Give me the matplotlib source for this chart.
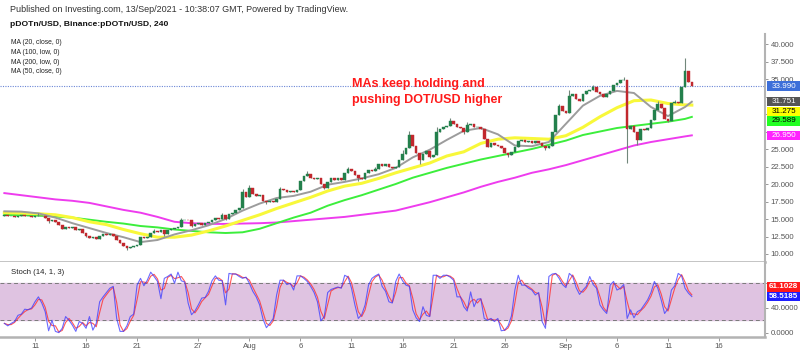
import numpy as np
import pandas as pd
import matplotlib
matplotlib.use("Agg")
import matplotlib.pyplot as plt
from matplotlib import transforms
from matplotlib.patches import Rectangle

plt.rcParams['font.family'] = ['Liberation Sans', 'DejaVu Sans']

# 8h candles, the first one opens 2021-07-08 00:00
start = pd.Timestamp('2021-07-08')
step = pd.Timedelta('8h')
first_open = 15.5
closes = [
    15.6, 15.4, 15.5, 15.3, 15.5, 15.6, 15.4, 15.5, 15.3, 15.4,
    15.4, 15.5, 15.2, 14.7, 14.9, 14.6, 14.1, 13.6, 13.9, 13.7,
    13.8, 13.4, 13.6, 13.0, 12.6, 12.3, 12.5, 12.2, 12.6, 12.8,
    12.7, 12.9, 12.6, 12.0, 11.5, 11.2, 10.9, 11.0, 11.1, 11.3,
    12.4, 12.3, 12.5, 13.0, 13.3, 13.2, 13.4, 12.8, 13.5, 13.6,
    13.7, 13.8, 14.8, 14.9, 14.8, 14.0, 14.3, 14.4, 14.2, 14.5,
    14.6, 14.9, 15.1, 15.0, 15.6, 15.0, 15.7, 15.9, 16.3, 16.6,
    18.9, 18.2, 19.4, 18.6, 18.3, 18.5, 17.6, 17.4, 17.6, 17.5,
    17.9, 19.3, 19.1, 18.8, 19.0, 18.9, 19.1, 20.4, 21.2, 21.5,
    20.9, 20.7, 20.8, 20.0, 19.5, 20.3, 20.8, 20.6, 20.8, 20.6,
    21.6, 22.1, 21.9, 21.3, 20.9, 20.7, 21.6, 22.0, 21.8, 22.1,
    22.8, 22.6, 22.8, 22.5, 22.3, 22.4, 23.5, 24.3, 25.2, 27.0,
    25.4, 24.4, 23.4, 24.3, 24.7, 23.9, 24.1, 27.5, 27.8, 28.2,
    28.3, 29.0, 28.6, 28.2, 28.0, 27.4, 28.5, 28.6, 28.1, 28.2,
    27.9, 26.4, 25.3, 25.9, 25.6, 25.4, 25.1, 24.5, 24.1, 24.6,
    25.3, 26.2, 26.3, 26.0, 26.1, 25.9, 26.1, 25.9, 25.4, 25.2,
    25.5, 27.4, 29.8, 31.1, 30.4, 30.2, 32.6, 32.9, 32.2, 31.9,
    32.8, 33.3, 33.5, 33.9, 33.1, 32.8, 32.5, 32.9, 33.3, 34.2,
    34.5, 34.8, 34.9, 27.9, 28.3, 27.5, 26.3, 27.9, 27.7, 28.0,
    29.2, 30.6, 31.4, 30.8, 29.3, 29.0, 31.6, 31.7, 31.6, 33.8,
    36.2, 34.6, 33.99,
]
# visible wicks (candle number -> price)
high_wicks = {10: 15.8, 44: 13.6, 52: 15.1, 64: 15.9, 70: 19.3, 72: 19.9,
              81: 19.6, 89: 21.9, 101: 22.5, 109: 22.4, 117: 24.8, 119: 27.6,
              127: 28.2, 131: 29.4, 136: 28.8, 163: 31.5, 166: 33.5,
              173: 34.2, 182: 35.3, 192: 31.9, 197: 32.0, 200: 38.0}
low_wicks = {13: 14.5, 24: 12.4, 36: 10.6, 47: 12.6, 55: 13.8, 65: 14.9,
             77: 17.2, 94: 19.3, 104: 20.5, 122: 22.9, 125: 23.7, 135: 27.2,
             148: 23.8, 159: 24.8, 183: 23.0, 186: 25.6, 195: 28.8}

# moving averages, read every 5 candles
ma_idx = list(range(0, 201, 5)) + [202]
ma20_close = [16.1, 16.05, 15.8, 15.2, 14.4, 13.7, 13.0, 12.4, 11.7, 12.0,
              12.8, 13.4, 14.1, 15.0, 16.2, 17.2, 18.0, 18.3, 18.9, 19.9,
              20.3, 20.8, 21.4, 22.3, 23.8, 24.9, 26.3, 27.6, 28.0, 27.1,
              25.5, 25.4, 26.0, 28.6, 31.2, 32.6, 33.3, 33.0, 31.0, 29.7,
              31.0, 31.751]
ma_yellow = [15.9, 15.85, 15.75, 15.6, 15.2, 14.6, 14.2, 13.5, 12.9, 12.4,
             12.4, 12.7, 13.3, 14.0, 14.8, 15.6, 16.5, 17.3, 18.1, 19.0,
             19.7, 20.1, 20.8, 21.6, 22.3, 23.0, 24.0, 24.6, 25.8, 26.4,
             26.6, 26.5, 26.4, 26.9, 28.1, 29.6, 30.9, 31.9, 32.0, 31.5,
             31.3, 31.275]
ma_green = [15.6, 15.55, 15.5, 15.35, 15.2, 14.9, 14.6, 14.35, 14.0, 13.8,
            13.5, 13.3, 13.1, 13.0, 13.1, 13.6, 14.4, 15.2, 15.9, 16.9,
            17.7, 18.4, 19.2, 20.0, 20.9, 21.6, 22.3, 22.9, 23.5, 24.0,
            24.5, 25.0, 25.6, 26.2, 27.0, 27.5, 28.0, 28.3, 28.6, 28.9,
            29.3, 29.589]
ma200_low = [18.7, 18.4, 18.1, 17.8, 17.6, 17.3, 16.8, 16.3, 15.9, 15.3,
             14.6, 14.4, 14.3, 14.3, 14.35, 14.4, 14.5, 14.7, 14.9, 15.1,
             15.3, 15.6, 15.9, 16.2, 16.8, 17.4, 18.1, 18.8, 19.6, 20.3,
             20.9, 21.6, 22.1, 22.7, 23.4, 24.1, 24.8, 25.5, 26.0, 26.4,
             26.8, 26.95]

stoch_k = [
    15, 11, 15, 18, 28, 30, 38, 37, 40, 50,
    58, 48, 34, 3, 20, 2, 0, 7, 26, 20,
    12, 2, 18, 15, 7, 26, 4, 15, 50, 58,
    65, 72, 75, 23, 2, 2, 11, 26, 30, 77,
    88, 76, 85, 98, 91, 83, 55, 88, 91, 95,
    80, 98, 84, 82, 48, 29, 35, 45, 56, 57,
    67, 84, 92, 85, 84, 45, 96, 95, 95, 91,
    88, 90, 80, 67, 58, 45, 22, 8, 15, 23,
    61, 85, 85, 78, 80, 69, 92, 92, 88, 83,
    75, 65, 50, 19, 26, 65, 70, 72, 74, 72,
    93, 90, 72, 45, 23, 29, 45, 77, 88, 92,
    95, 75, 67, 50, 48, 83, 95, 84, 77, 75,
    37, 24, 18, 42, 28, 26, 93, 93, 88, 93,
    93, 90, 85, 58, 58, 42, 35, 66, 42, 54,
    55, 23, 20, 23, 18, 23, 3, 4, 11, 27,
    69, 93, 77, 77, 72, 69, 61, 65, 18, 7,
    91, 95, 96, 88, 78, 73, 96, 91, 73, 62,
    69, 75, 91, 78, 72, 45, 37, 31, 77, 83,
    69, 72, 78, 23, 37, 24, 34, 37, 45, 53,
    65, 83, 72, 53, 31, 39, 69, 76, 96, 92,
    72, 64, 58.52,
]
stoch_k_last = '58.5185'
stoch_d_last = '61.1028'

tick_dates = ['2021-07-11', '2021-07-16', '2021-07-21', '2021-07-27', '2021-08-01',
              '2021-08-06', '2021-08-11', '2021-08-16', '2021-08-21', '2021-08-26',
              '2021-09-01', '2021-09-06', '2021-09-11', '2021-09-16']
tick_labels = ['11', '16', '21', '27', 'Aug', '6', '11', '16', '21', '26',
               'Sep', '6', '11', '16']

ma_legend = ['MA (20, close, 0)', 'MA (100, low, 0)', 'MA (200, low, 0)', 'MA (50, close, 0)']

# ---- figure in pixel units ----
W, H = 800, 352
fig = plt.figure(figsize=(8, 3.52), dpi=100)
AX_R = 765


def fx(px):
    return px / W


def fy(py):
    return 1 - py / H


ax = fig.add_axes([0, fy(262), fx(AX_R), (262 - 34) / H])
axs = fig.add_axes([0, fy(337), fx(AX_R), (337 - 262) / H], sharex=ax)

grey = '#b3b3b3'
for a in (ax, axs):
    for s in ('top', 'left'):
        a.spines[s].set_visible(False)
    a.spines['right'].set_color(grey)
    a.spines['right'].set_linewidth(1.5)
    a.spines['bottom'].set_color(grey)
    a.spines['bottom'].set_linewidth(1.8)
    a.yaxis.tick_right()
    a.tick_params(axis='y', length=2.5, width=0.6, color='#888888', pad=1.5,
                  labelsize=5.6, labelcolor='#555555')

# ---- candles ----
c = np.array(closes)
o = np.r_[first_open, c[:-1]]
idx = np.arange(len(c))
hi = np.maximum(o, c)
lo = np.minimum(o, c)
for k, v in high_wicks.items():
    hi[k] = v
for k, v in low_wicks.items():
    lo[k] = v
up = c >= o
body_col = np.where(up, '#23804c', '#c1272d')

ax.plot(ma_idx, ma200_low, color='#ee3cee', lw=1.4, zorder=2)
ax.plot(ma_idx, ma_green, color='#3cee3c', lw=1.4, zorder=2)
ax.plot(ma_idx, ma_yellow, color='#f8f83a', lw=2.2, zorder=2)
ax.plot(ma_idx, ma20_close, color='#9c9c9c', lw=1.4, zorder=2)

ax.vlines(idx, lo, hi, color='#71877b', lw=0.8, zorder=3)
ax.bar(idx, np.maximum(np.abs(c - o), 0.1), bottom=np.minimum(o, c), width=0.78,
       color=body_col, edgecolor=body_col, lw=0.3, zorder=4)

last = closes[-1]
ax.axhline(last, color='#6b86d6', lw=0.8, ls=(0, (1, 1.2)), zorder=1)

ax.set_xlim(-1.28, 223.5)
ax.set_ylim(8.857, 41.43)
ax.tick_params(axis='x', bottom=False, labelbottom=False)

# price labels on the axis, pushed apart where they overlap
px_per_unit = 7.0
gap = 9.6 / px_per_unit
labels = [(last, '#3d6fd9', 'white'),
          (ma20_close[-1], '#555555', 'white'),
          (ma_yellow[-1], '#ffff00', 'black'),
          (ma_green[-1], '#22ff22', 'black'),
          (ma200_low[-1], '#ff22ff', 'white')]
labels.sort(key=lambda t: -t[0])
tr = transforms.blended_transform_factory(ax.transAxes, ax.transData)
prev = None
box_pos = []
for v, bg, tc in labels:
    pos = v if prev is None else min(v, prev - gap)
    prev = pos
    box_pos.append(pos)
    ax.add_patch(Rectangle((1 + 1.5 / AX_R, pos - 4.6 / px_per_unit), 34 / AX_R,
                           9.2 / px_per_unit, transform=tr, facecolor=bg,
                           edgecolor='none', clip_on=False, zorder=10))
    ax.text(1 + 18.5 / AX_R, pos, f'{v:.3f}', transform=tr, ha='center', va='center',
            fontsize=5.8, color=tc, zorder=11, clip_on=False)

# axis ticks that sit under a label box are hidden, as on the chart
yt = np.arange(10, 40.1, 2.5)
ax.set_yticks(yt)
ax.set_yticklabels(['' if min(abs(t - p) for p in box_pos) * px_per_unit < 7 else f'{t:.3f}'
                    for t in yt])

# ---- stochastic ----
k = pd.Series(stoch_k, dtype=float)
d = k.rolling(2, min_periods=1).mean()
sidx = np.arange(len(k))
axs.axhspan(20, 80, color='#dfc3e1', zorder=0)
for lvl in (20, 80):
    axs.axhline(lvl, color='#7a7a7a', lw=0.7, ls=(0, (4, 3)), zorder=1)
axs.plot(sidx, k, color='#3a3aff', lw=0.8, alpha=0.75, zorder=3)
axs.plot(sidx, d, color='#ff3030', lw=0.8, alpha=0.8, zorder=2)
axs.set_ylim(-7.1, 114.5)

tick_pos = [(pd.Timestamp(t) - start) / step for t in tick_dates]
axs.set_xticks(tick_pos)
axs.set_xticklabels(tick_labels)
axs.tick_params(axis='x', length=3, width=0.6, color='#888888', pad=1.5,
                labelsize=5.6, labelcolor='#555555')

s_unit = 0.6167
s_gap = 9.6 / s_unit
trs = transforms.blended_transform_factory(axs.transAxes, axs.transData)
kv, dv = float(stoch_k_last), float(stoch_d_last)
dpos = max(dv, kv + s_gap)
for v, txt, bg in ((kv, stoch_k_last, '#1f1fff'), (dpos, stoch_d_last, '#ff1a1a')):
    axs.add_patch(Rectangle((1 + 1.5 / AX_R, v - 4.6 / s_unit), 34 / AX_R, 9.2 / s_unit,
                            transform=trs, facecolor=bg, edgecolor='none',
                            clip_on=False, zorder=10))
    axs.text(1 + 18.5 / AX_R, v, txt, transform=trs, ha='center', va='center',
             fontsize=5.8, color='white', fontweight='bold', zorder=11, clip_on=False)

st = [0, 40, 80]
axs.set_yticks(st)
axs.set_yticklabels(['' if min(abs(t - kv), abs(t - dpos)) * s_unit < 7 else f'{t:.4f}'
                     for t in st])

fig.text(fx(11), fy(272), 'Stoch (14, 1, 3)', fontsize=5.6, color='#222222', va='center')

# ---- header texts ----
fig.text(fx(10), fy(10), 'Published on Investing.com, 13/Sep/2021 - 10:38:07 GMT, Powered by TradingView.',
         fontsize=6.5, color='#333333', va='center')
fig.text(fx(10), fy(25), 'pDOTn/USD, Binance:pDOTn/USD, 240', fontsize=6.1,
         fontweight='bold', color='#111111', va='center')
for j, t in enumerate(ma_legend):
    fig.text(fx(11), fy(43 + 9.5 * j), t, fontsize=4.9, color='#222222', va='center')

fig.text(fx(352), fy(84), 'MAs keep holding and', fontsize=9, fontweight='bold',
         color='#ff1a1a', va='center')
fig.text(fx(352), fy(100), 'pushing DOT/USD higher', fontsize=9, fontweight='bold',
         color='#ff1a1a', va='center')

fig.savefig('out.png', dpi=100)
